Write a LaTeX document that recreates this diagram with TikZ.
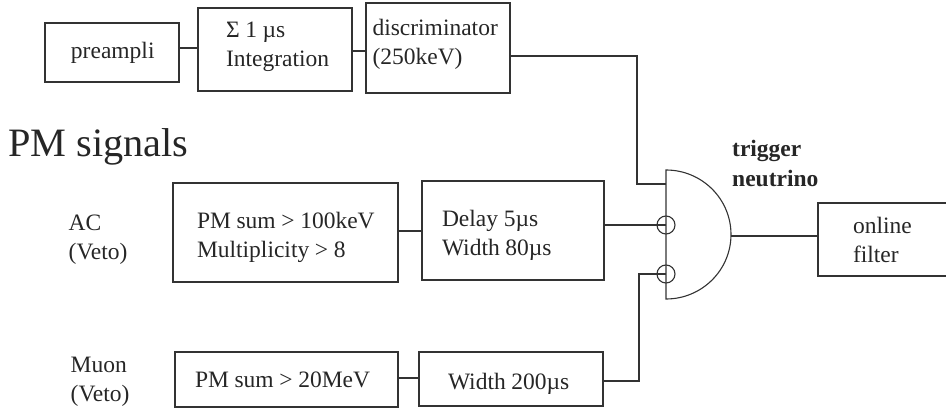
\documentclass[tikz,border=0pt]{standalone}
\usepackage{fontspec}
\setmainfont{Liberation Serif}
\newcommand{\lift}[1]{\rule[-#1]{0pt}{#1}}
\newcommand{\drop}[1]{\rule{0pt}{#1}}
\tikzset{
 wire/.style={draw=black!80, line width=1.1pt},
 txt/.style={font=\fontsize{23.5}{29}\selectfont, text=black!85, inner sep=0, align=left},
 box/.style n args={3}{txt, wire, rectangle, minimum height=#2, text width=#1, execute at begin node={\leftskip=#3\relax\spaceskip=.24em\relax}},
}
\begin{document}
\begin{tikzpicture}[x=1pt,y=-1pt]
\useasboundingbox (0,0) rectangle (946,409);
% upper chain
\node[box={134pt}{59pt}{26pt}] (preampli) at (112,52.5) {preampli};
\node[box={154pt}{83pt}{28pt}] (integ) at (275,49.5) {Σ 1 µs\\Integration\lift{10pt}};
\node[box={144pt}{90pt}{6.5pt}] (discr) at (438,48) {discriminator\\(250keV)\lift{12pt}};
% AC and muon chains
\node[box={225pt}{99pt}{24pt}] (acsum) at (285.5,232.5) {\drop{26pt}PM sum > 100keV\\Multiplicity > 8};
\node[box={182pt}{99pt}{20pt}] (acdelay) at (513,230.5) {\drop{26pt}Delay 5µs\\Width 80µs};
\node[box={223pt}{55pt}{20pt}] (musum) at (286.5,379.5) {PM sum > 20MeV};
\node[box={184pt}{54pt}{29pt}] (muwidth) at (511,379) {\drop{26pt}Width 200µs};
\node[box={130pt}{73pt}{35pt}] (filter) at (883,239.5) {online\\filter};
% labels
\node[txt, font=\fontsize{40.3}{42}\selectfont, anchor=base west] (pmsignals) at (8,157) {PM signals};
\node[txt, anchor=base west] (aclabel) at (68.5,230) {AC};
\node[txt, anchor=base west] (acveto) at (68.5,259) {(Veto)};
\node[txt, anchor=base west] (mulabel) at (70.5,372) {Muon};
\node[txt, anchor=base west] (muveto) at (70.5,401) {(Veto)};
\node[txt, font=\fontsize{23.5}{29}\selectfont\bfseries, anchor=base west] (trigger) at (732,157) {trigger};
\node[txt, font=\fontsize{23.5}{29}\selectfont\bfseries, anchor=base west] (neutrino) at (732,187) {neutrino};
% gate
\draw[wire] (666,170) -- (666,299) arc (90:-90:65 and 64.5) -- cycle;
\node[wire, circle, minimum size=18pt, inner sep=0] (vetoa) at (666,225) {};
\node[wire, circle, minimum size=18pt, inner sep=0] (vetob) at (666,274) {};
\coordinate (gatein) at (666,184);
\coordinate (gateout) at (731,236);
% connectors
\draw[wire] (preampli.east |- 0,48) -- (integ.west |- 0,48);
\draw[wire] (integ.east |- 0,51) -- (discr.west |- 0,51);
\draw[wire] (discr.east |- 0,56) -| (637,184) -- (gatein);
\draw[wire] (acsum.east |- 0,231) -- (acdelay.west |- 0,231);
\draw[wire] (acdelay.east |- vetoa) -- (vetoa.center);
\draw[wire] (musum.east |- 0,378) -- (muwidth.west |- 0,378);
\draw[wire] (muwidth.east |- 0,381) -| (639,274) -- (vetob.center);
\draw[wire] (gateout) -- (filter.west |- gateout);
\end{tikzpicture}
\end{document}
